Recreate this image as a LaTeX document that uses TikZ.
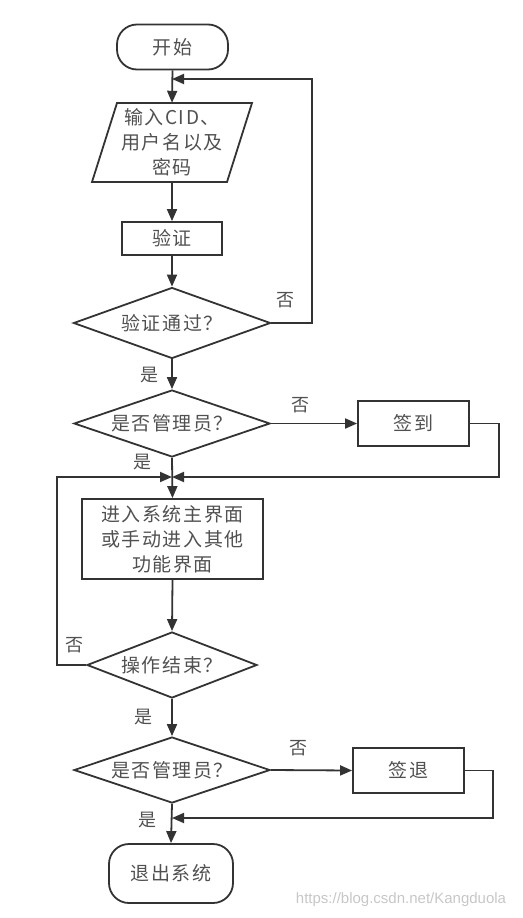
\documentclass[tikz,border=0pt]{standalone}
\usepackage{fontspec}
\setmainfont{Noto Sans CJK SC}[LetterSpace=8]
\newfontfamily\wmfont{Liberation Sans}
\usetikzlibrary{shapes.geometric,arrows.meta}
\definecolor{ln}{HTML}{333333}
\definecolor{tx}{HTML}{505050}
\tikzset{
  base/.style={inner sep=0pt, align=center, text=tx, font=\fontsize{19}{25}\selectfont},
  box/.style={base, draw=ln, line width=1.8pt, rectangle},
  term/.style={box, rounded corners=20pt},
  dec/.style={base, draw=ln, line width=1.8pt, diamond, shape aspect=2.8},
  conn/.style={draw=ln, line width=1.8pt},
  arr/.style={conn, -{Triangle[length=12pt,width=10pt]}},
  lab/.style={inner sep=0pt, text=tx, font=\fontsize{18}{18}\selectfont},
}
\begin{document}
\begin{tikzpicture}[x=1pt,y=-1pt]
\useasboundingbox (0,0) rectangle (522,918);
% nodes
\node[term, minimum width=111pt, minimum height=45pt] (start) at (172.5,47) {开始};
\node[base, minimum width=135pt, minimum height=79pt] (in) at (172,142.5) {输入CID、\\用户名以及\\密码};
\draw[conn, line join=miter] (117,103) -- (252,103) -- (227,182) -- (92,182) -- cycle;
\node[box, minimum width=100pt, minimum height=33pt] (ver) at (172,238.5) {验证};
\node[dec, minimum width=197pt, minimum height=71pt] (d1) at (172,323) {验证通过？};
\node[dec, minimum width=196pt, minimum height=67pt] (d2) at (172,423.5) {是否管理员？};
\node[box, minimum width=111pt, minimum height=45pt] (sin) at (413.5,423.5) {签到};
\node[box, minimum width=181pt, minimum height=80pt] (main) at (172.5,539) {进入系统主界面\\或手动进入其他\\功能界面};
\node[dec, shape aspect=2.6, minimum width=170pt, minimum height=66pt] (d3) at (172,665) {操作结束？};
\node[dec, minimum width=196pt, minimum height=66pt] (d4) at (172,770) {是否管理员？};
\node[box, minimum width=111pt, minimum height=45pt] (sout) at (408.5,770.5) {签退};
\node[term, minimum width=124pt, minimum height=59pt] (exit) at (171,873.5) {退出系统};
% junction coordinates
\coordinate (j1) at (172,79);
\coordinate (r1) at (312,79);
\coordinate (j2) at (172,477);
\coordinate (r2) at (499,477);
\coordinate (l2) at (57,477);
\coordinate (j3) at (172,818);
\coordinate (r3) at (493,818);
% connectors
\draw[arr] (start.south) -- (in.north);
\draw[arr] (in.south) -- (ver.north);
\draw[arr] (ver.south) -- (d1.north);
\draw[arr] (d1.east) -| (r1) -- (j1);
\draw[arr] (d1.south) -- (d2.north);
\draw[arr] (d2.east) -- (sin.west);
\draw[arr] (sin.east) -| (r2) -- (j2);
\draw[arr] (d2.south) -- (main.north);
\draw[arr] (d3.west) -| (l2) -- (j2);
\draw[arr] (main.south) -- (d3.north);
\draw[arr] (d3.south) -- (d4.north);
\draw[arr] (d4.east) -- (sout.west);
\draw[arr] (sout.east) -| (r3) -- (j3);
\draw[arr] (d4.south) -- (exit.north);
% labels
\node[lab] (n1) at (285,300) {否};
\node[lab] (y1) at (149,375) {是};
\node[lab] (n2) at (300,405) {否};
\node[lab] (y2) at (142,462) {是};
\node[lab] (n3) at (74,645) {否};
\node[lab] (y3) at (143,717) {是};
\node[lab] (n4) at (298,748) {否};
\node[lab] (y4) at (147,820) {是};
\node[inner sep=0pt, text=black!22, font=\wmfont\fontsize{15}{15}\selectfont] (wm) at (401,900) {https://blog.csdn.net/Kangduola};
\end{tikzpicture}
\end{document}
